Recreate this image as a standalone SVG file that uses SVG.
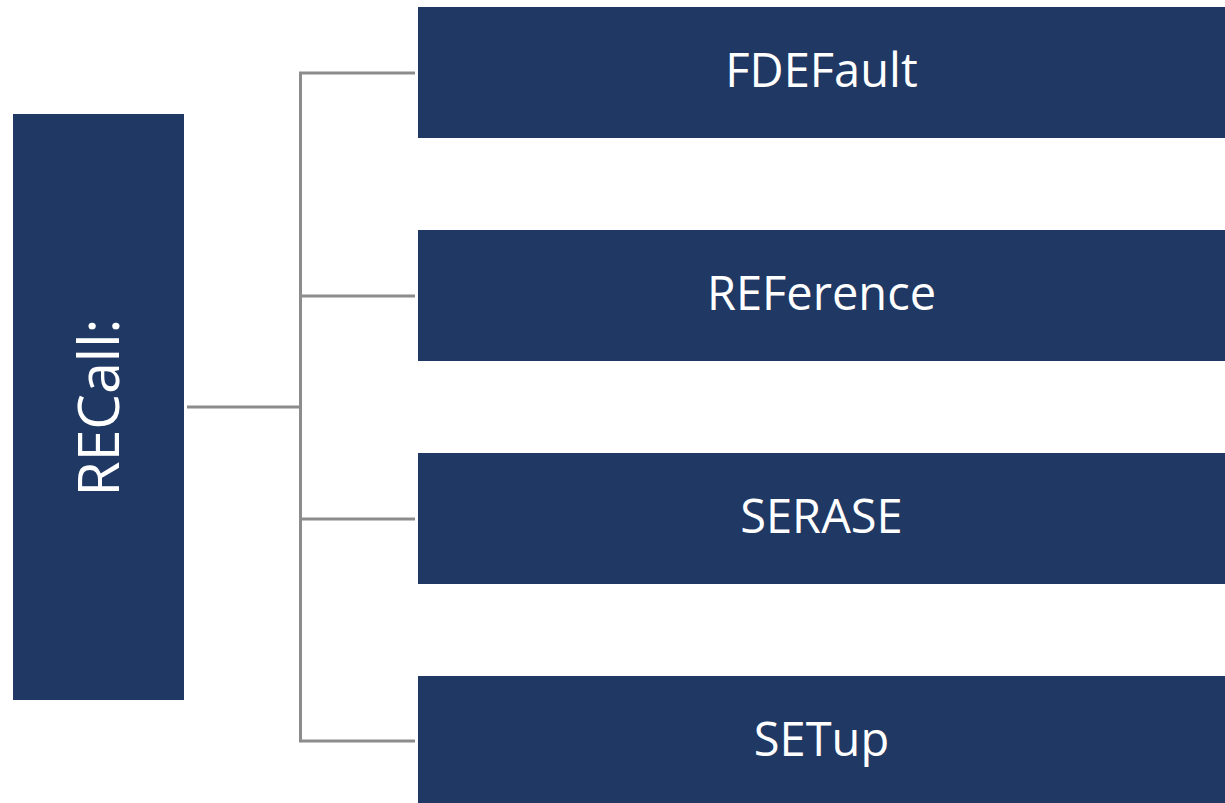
<svg xmlns="http://www.w3.org/2000/svg" width="1225" height="803" viewBox="0 0 1225 803">
<style>
.box{fill:#1f3864;}
.lbl{fill:#ffffff;font-family:"Open Sans","Liberation Sans",sans-serif;font-size:47px;text-anchor:middle;}
.big{font-size:56px;}
.con{stroke:#8c8c8c;stroke-width:3;fill:none;}
</style>
<rect width="1225" height="803" fill="#ffffff"/>
<g id="connectors">
<path class="con" d="M187 407 H300.5"/>
<path class="con" d="M415 73 H300.5 V741 H415"/>
<path class="con" d="M300.5 296 H415"/>
<path class="con" d="M300.5 519 H415"/>
</g>
<g id="recall">
<rect class="box" x="13" y="114" width="171" height="586"/>
<text class="lbl big" transform="translate(119,407.5) rotate(-90)" textLength="178" lengthAdjust="spacingAndGlyphs">RECall:</text>
</g>
<g id="fdefault">
<rect class="box" x="418" y="7" width="807" height="131"/>
<text class="lbl" x="821.5" y="87">FDEFault</text>
</g>
<g id="reference">
<rect class="box" x="418" y="230" width="807" height="131"/>
<text class="lbl" x="821.5" y="310">REFerence</text>
</g>
<g id="serase">
<rect class="box" x="418" y="453" width="807" height="131"/>
<text class="lbl" x="821.5" y="533">SERASE</text>
</g>
<g id="setup">
<rect class="box" x="418" y="676" width="807" height="127"/>
<text class="lbl" x="821.5" y="756">SETup</text>
</g>
</svg>
